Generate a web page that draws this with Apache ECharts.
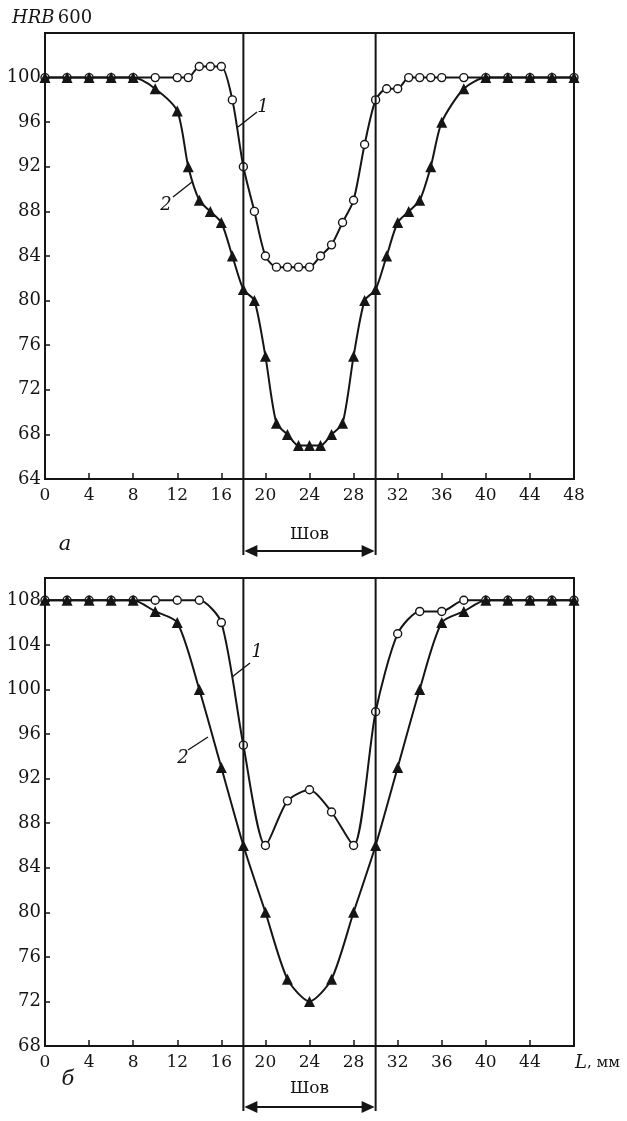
<!DOCTYPE html>
<html>
<head>
<meta charset="utf-8">
<script src="https://cdn.jsdelivr.net/npm/echarts@6/dist/echarts.min.js"></script>
<style>
  html, body { margin: 0; padding: 0; background: #fff; }
  #chart { width: 627px; height: 1121px; }
</style>
</head>
<body>
<div id="chart"></div>
<script>
// panel a: distance L (mm) and hardness HRB, curve 1 (circles) and curve 2 (triangles)
const xA1 = [0, 2, 4, 6, 8, 10, 12, 13, 14, 15, 16, 17, 18, 19, 20, 21, 22, 23, 24, 25, 26, 27, 28, 29, 30, 31, 32, 33, 34, 35, 36, 38, 40, 42, 44, 46, 48]
const yA1 = [100, 100, 100, 100, 100, 100, 100, 100, 101, 101, 101, 98, 92, 88, 84, 83, 83, 83, 83, 84, 85, 87, 89, 94, 98, 99, 99, 100, 100, 100, 100, 100, 100, 100, 100, 100, 100]
const xA2 = [0, 2, 4, 6, 8, 10, 12, 13, 14, 15, 16, 17, 18, 19, 20, 21, 22, 23, 24, 25, 26, 27, 28, 29, 30, 31, 32, 33, 34, 35, 36, 38, 40, 42, 44, 46, 48]
const yA2 = [100, 100, 100, 100, 100, 99, 97, 92, 89, 88, 87, 84, 81, 80, 75, 69, 68, 67, 67, 67, 68, 69, 75, 80, 81, 84, 87, 88, 89, 92, 96, 99, 100, 100, 100, 100, 100]

// panel б
const xB = [0, 2, 4, 6, 8, 10, 12, 14, 16, 18, 20, 22, 24, 26, 28, 30, 32, 34, 36, 38, 40, 42, 44, 46, 48]
const yB1 = [108, 108, 108, 108, 108, 108, 108, 108, 106, 95, 86, 90, 91, 89, 86, 98, 105, 107, 107, 108, 108, 108, 108, 108, 108]
const yB2 = [108, 108, 108, 108, 108, 107, 106, 100, 93, 86, 80, 74, 72, 74, 80, 86, 93, 100, 106, 107, 108, 108, 108, 108, 108]

const weldZone = [18, 30]
const yRangeA = [64, 104]
const yRangeB = [68, 110]

const FONT = 'DejaVu Serif'
const INK = '#151515'

const zip = (xs, ys) => xs.map((x, i) => [x, ys[i]])

const chart = echarts.init(document.getElementById('chart'))

function xAxisCfg(gi, hideLast) {
  return {
    gridIndex: gi,
    type: 'value',
    min: 0,
    max: 48,
    interval: 4,
    axisLine: { lineStyle: { color: INK, width: 2 } },
    axisTick: { inside: true, length: 6, lineStyle: { color: INK, width: 1.5 } },
    axisLabel: {
      fontFamily: FONT, fontSize: 17, color: INK, margin: 8,
      formatter: v => (hideLast && v === 48) ? '' : String(v)
    },
    splitLine: { show: false }
  }
}

function yAxisCfg(gi, range, topLabel) {
  return {
    gridIndex: gi,
    type: 'value',
    min: range[0],
    max: range[1],
    interval: 4,
    axisLine: { lineStyle: { color: INK, width: 2 } },
    axisTick: { inside: true, length: 5, lineStyle: { color: INK, width: 1.5 } },
    axisLabel: {
      fontFamily: FONT, fontSize: 18, color: INK, margin: 4,
      formatter: v => v > topLabel ? '' : String(v)
    },
    splitLine: { show: false }
  }
}

function circleSeries(gi, data) {
  return {
    type: 'line', xAxisIndex: gi, yAxisIndex: gi, data: data,
    smooth: 0.25, symbol: 'circle', symbolSize: 8,
    lineStyle: { color: INK, width: 2 },
    itemStyle: { color: '#fff', borderColor: INK, borderWidth: 1.4 },
    z: 3
  }
}

function triangleSeries(gi, data) {
  return {
    type: 'line', xAxisIndex: gi, yAxisIndex: gi, data: data,
    smooth: 0.25, symbol: 'triangle', symbolSize: 11,
    lineStyle: { color: INK, width: 2 },
    itemStyle: { color: INK },
    z: 4
  }
}

chart.setOption({
  animation: false,
  grid: [
    { left: 45, top: 33, width: 529, height: 446, show: true, borderColor: INK, borderWidth: 2 },
    { left: 45, top: 578, width: 529, height: 468, show: true, borderColor: INK, borderWidth: 2 }
  ],
  xAxis: [xAxisCfg(0, false), xAxisCfg(1, true)],
  yAxis: [yAxisCfg(0, yRangeA, 100), yAxisCfg(1, yRangeB, 108)],
  series: [
    circleSeries(0, zip(xA1, yA1)),
    triangleSeries(0, zip(xA2, yA2)),
    circleSeries(1, zip(xB, yB1)),
    triangleSeries(1, zip(xB, yB2))
  ]
})

// annotations: weld zone lines and arrows, panel letters, curve labels
const panels = [
  { gi: 0, range: yRangeA, arrowY: 551, textY: 535, letter: 'а', letterPos: [65, 545],
    labels: [{ t: '1', pos: [263, 107], line: [[238, 127], [257, 112]] },
             { t: '2', pos: [166, 205], line: [[173, 197], [192, 182]] }] },
  { gi: 1, range: yRangeB, arrowY: 1107, textY: 1089, letter: 'б', letterPos: [68, 1080],
    labels: [{ t: '1', pos: [257, 652], line: [[232, 677], [250, 663]] },
             { t: '2', pos: [183, 758], line: [[188, 750], [208, 737]] }] }
]

const graphic = []
const lineStyle = { stroke: INK, lineWidth: 2 }

panels.forEach(p => {
  const top = chart.convertToPixel({ gridIndex: p.gi }, [weldZone[0], p.range[1]])
  const x1 = top[0]
  const x2 = chart.convertToPixel({ gridIndex: p.gi }, [weldZone[1], p.range[1]])[0]
  const yTop = top[1]
  const yBot = p.arrowY + 4
  graphic.push({ type: 'line', shape: { x1: x1, y1: yTop, x2: x1, y2: yBot }, style: lineStyle, z: 10 })
  graphic.push({ type: 'line', shape: { x1: x2, y1: yTop, x2: x2, y2: yBot }, style: lineStyle, z: 10 })
  graphic.push({ type: 'line', shape: { x1: x1 + 4, y1: p.arrowY, x2: x2 - 4, y2: p.arrowY }, style: lineStyle, z: 10 })
  graphic.push({ type: 'polygon', shape: { points: [[x1 + 1, p.arrowY], [x1 + 14, p.arrowY - 6], [x1 + 14, p.arrowY + 6]] }, style: { fill: INK }, z: 10 })
  graphic.push({ type: 'polygon', shape: { points: [[x2 - 1, p.arrowY], [x2 - 14, p.arrowY - 6], [x2 - 14, p.arrowY + 6]] }, style: { fill: INK }, z: 10 })
  graphic.push({
    type: 'text', x: (x1 + x2) / 2, y: p.textY,
    style: { text: 'Шов', font: '17px "' + FONT + '"', fill: INK, align: 'center', verticalAlign: 'middle' }, z: 10
  })
  graphic.push({
    type: 'text', x: p.letterPos[0], y: p.letterPos[1],
    style: { text: p.letter, font: 'italic 21px "' + FONT + '"', fill: INK, align: 'center', verticalAlign: 'middle' }, z: 10
  })
  p.labels.forEach(l => {
    graphic.push({ type: 'line', shape: { x1: l.line[0][0], y1: l.line[0][1], x2: l.line[1][0], y2: l.line[1][1] }, style: { stroke: INK, lineWidth: 1.4 }, z: 10 })
    graphic.push({
      type: 'text', x: l.pos[0], y: l.pos[1],
      style: { text: l.t, font: 'italic 18px "' + FONT + '"', fill: INK, align: 'center', verticalAlign: 'middle' }, z: 10
    })
  })
})

// y axis title and x axis unit
graphic.push({
  type: 'text', x: 12, y: 18,
  style: {
    text: '{i|HRB} {r|600}', verticalAlign: 'middle',
    rich: {
      i: { fontFamily: FONT, fontStyle: 'italic', fontSize: 18, fill: INK },
      r: { fontFamily: FONT, fontSize: 18, fill: INK }
    }
  }, z: 10
})
const lEnd = chart.convertToPixel({ gridIndex: 1 }, [48, yRangeB[0]])
graphic.push({
  type: 'text', x: lEnd[0] + 1, y: lEnd[1] + 17,
  style: {
    text: '{i|L}{r|, мм}', verticalAlign: 'middle',
    rich: {
      i: { fontFamily: FONT, fontStyle: 'italic', fontSize: 18, fill: INK },
      r: { fontFamily: FONT, fontSize: 15, fill: INK }
    }
  }, z: 10
})

chart.setOption({ graphic: graphic })
</script>
</body>
</html>
